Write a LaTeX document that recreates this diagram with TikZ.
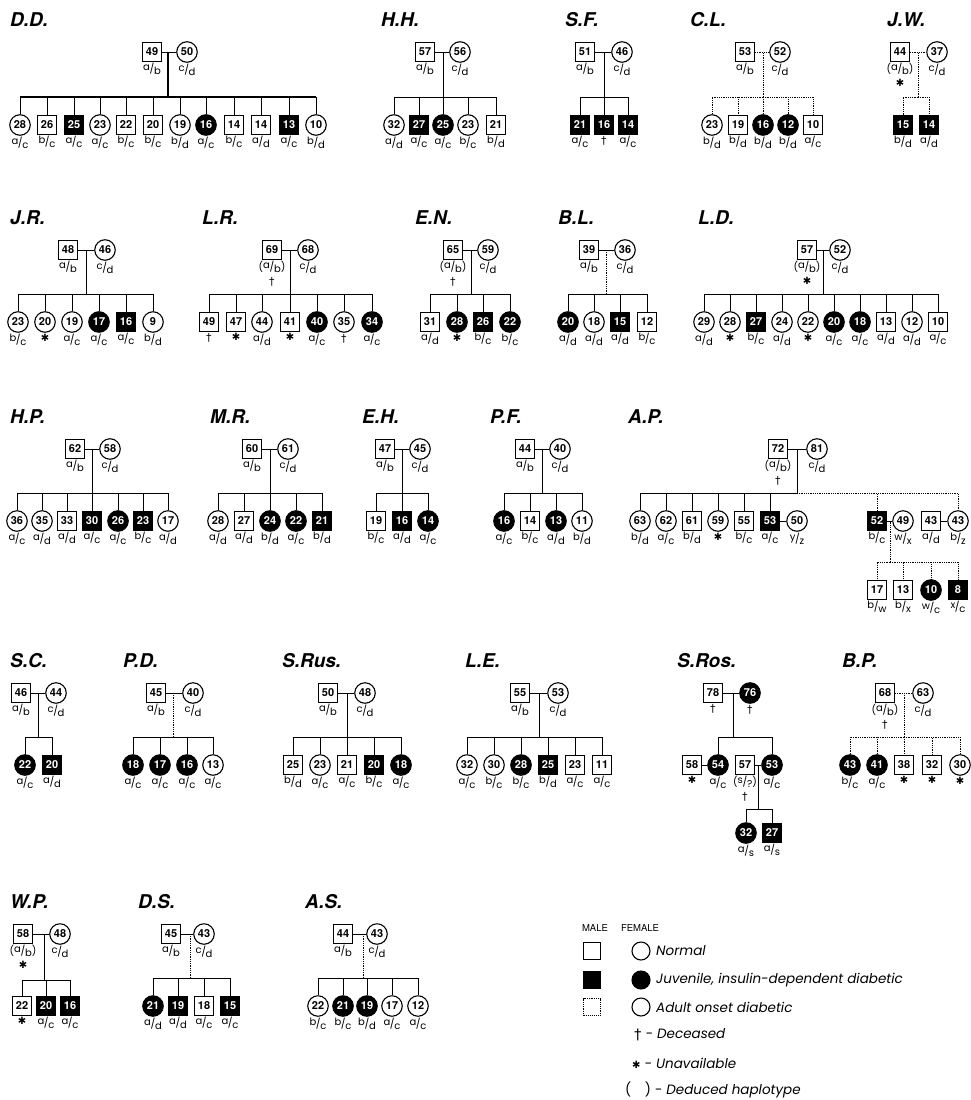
\documentclass[tikz,border=0pt]{standalone}
\usepackage{fontspec}
\setmainfont{TeX Gyre Heros}
\newfontfamily\heros{TeX Gyre Heros}
\newfontfamily\dejavu{DejaVu Sans}
\newfontfamily\lgdfont{Poppins}
\usetikzlibrary{positioning}

\newcommand\hapl[2]{\raisebox{2pt}{#1}\kern-.3pt/\kern-.3pt\raisebox{-1.7pt}{#2}}
\newcommand\unav{{\dejavu\fontsize{10}{10}\selectfont ✱}}
\newcommand\dead{{\heros\textdagger}}

\begin{document}
\begin{tikzpicture}[x=1pt, y=-1pt,
        indiv/.style={draw, line width=1.1pt, inner sep=0pt,
                      font=\heros\bfseries\fontsize{11}{11}\selectfont},
        male/.style={indiv, rectangle, minimum size=19pt},
        female/.style={indiv, circle, minimum size=20.5pt},
        sick/.style={fill=black, text=white},
        hap/.style={font=\lgdfont\fontsize{10}{12}\selectfont, text=black,
                    inner sep=1pt, align=center},
        ht/.style={label={[hap]below:#1}},
        ttl/.style={anchor=base west, inner sep=0pt,
                    font=\heros\bfseries\itshape\fontsize{19}{19}\selectfont},
        link/.style={line width=0.8pt},
        blink/.style={line width=1.6pt},
        dlink/.style={line width=0.8pt, densely dotted},
        lgd/.style={anchor=west, inner sep=0pt,
                    font=\lgdfont\itshape\fontsize{13.5}{14}\selectfont}
    ]
\useasboundingbox (0,0) rectangle (971,1100);

% --- D.D. ---
\node[ttl] (ddT) at (10,26) {D.D.};
\node[male, ht=\hapl ab] (ddF) at (152,52) {49};
\node[female, ht=\hapl cd] (ddM) at (187,52) {50};
\coordinate (ddS) at (168,97);
\node[female, ht=\hapl ac] (dd1) at (20,125) {28};
\node[male, ht=\hapl bc] (dd2) at (47,125) {26};
\node[male, sick, ht=\hapl ac] (dd3) at (74,125) {25};
\node[female, ht=\hapl ac] (dd4) at (100,125) {23};
\node[male, ht=\hapl bc] (dd5) at (126,125) {22};
\node[male, ht=\hapl bc] (dd6) at (153,125) {20};
\node[female, ht=\hapl bd] (dd7) at (180,125) {19};
\node[female, sick, ht=\hapl ac] (dd8) at (206,125) {16};
\node[male, ht=\hapl bc] (dd9) at (234,125) {14};
\node[male, ht=\hapl ad] (dd10) at (261,125) {14};
\node[male, sick, ht=\hapl ac] (dd11) at (289,125) {13};
\node[female, ht=\hapl bd] (dd12) at (316,125) {10};
\draw[link] (ddF) -- (ddM);
\draw[blink] (ddS) -- (ddS |- ddF) (dd1 |- ddS) -- (dd12 |- ddS);
\draw[link] (ddS) -| (dd1) (ddS) -| (dd2) (ddS) -| (dd3) (ddS) -| (dd4)
    (ddS) -| (dd5) (ddS) -| (dd6) (ddS) -| (dd7) (ddS) -| (dd8)
    (ddS) -| (dd9) (ddS) -| (dd10) (ddS) -| (dd11) (ddS) -| (dd12);

% --- H.H. ---
\node[ttl] (hhT) at (381,26) {H.H.};
\node[male, ht=\hapl ab] (hhF) at (425,52) {57};
\node[female, ht=\hapl cd] (hhM) at (460,52) {56};
\coordinate (hhS) at (443,97);
\node[female, ht=\hapl ad] (hh1) at (394,125) {32};
\node[male, sick, ht=\hapl ac] (hh2) at (419,125) {27};
\node[female, sick, ht=\hapl ac] (hh3) at (443,125) {25};
\node[female, ht=\hapl bc] (hh4) at (468,125) {23};
\node[male, ht=\hapl bd] (hh5) at (496,125) {21};
\draw[link] (hhF) -- (hhM) (hhS) -- (hhS |- hhF);
\draw[link] (hhS) -| (hh1) (hhS) -| (hh2) (hhS) -| (hh3) (hhS) -| (hh4) (hhS) -| (hh5);

% --- S.F. ---
\node[ttl] (sfT) at (565,26) {S.F.};
\node[male, ht=\hapl ab] (sfF) at (585,52) {51};
\node[female, ht=\hapl cd] (sfM) at (622,52) {46};
\coordinate (sfS) at (604,97);
\node[male, sick, ht=\hapl ac] (sf1) at (580,125) {21};
\node[male, sick, ht=\dead] (sf2) at (604,125) {16};
\node[male, sick, ht=\hapl ac] (sf3) at (628,125) {14};
\draw[link] (sfF) -- (sfM) (sfS) -- (sfS |- sfF);
\draw[link] (sfS) -| (sf1) (sfS) -| (sf2) (sfS) -| (sf3);

% --- C.L. ---
\node[ttl] (clT) at (690,26) {C.L.};
\node[male, ht=\hapl ab] (clF) at (745,52) {53};
\node[female, ht=\hapl cd] (clM) at (780,52) {52};
\coordinate (clS) at (763,97);
\node[female, ht=\hapl bd] (cl1) at (712,125) {23};
\node[male, ht=\hapl bd] (cl2) at (738,125) {19};
\node[female, sick, ht=\hapl bd] (cl3) at (763,125) {16};
\node[female, sick, ht=\hapl bd] (cl4) at (788,125) {12};
\node[male, ht=\hapl ac] (cl5) at (813,125) {10};
\draw[dlink] (clF) -- (clM) (clS) -- (clS |- clF);
\draw[dlink] (clS) -| (cl1) (clS) -| (cl2) (clS) -| (cl3) (clS) -| (cl4) (clS) -| (cl5);

% --- J.W. ---
\node[ttl] (jwT) at (887,26) {J.W.};
\node[male, ht={(\hapl ab)\\[2pt]\unav}] (jwF) at (900,52) {44};
\node[female, ht=\hapl cd] (jwM) at (937,52) {37};
\coordinate (jwS) at (918,97);
\node[male, sick, ht=\hapl bd] (jw1) at (903,125) {15};
\node[male, sick, ht=\hapl ad] (jw2) at (929,125) {14};
\draw[dlink] (jwF) -- (jwM) (jwS) -- (jwS |- jwF);
\draw[dlink] (jwS) -| (jw1) (jwS) -| (jw2);

% --- J.R. ---
\node[ttl] (jrT) at (10,224) {J.R.};
\node[male, ht=\hapl ab] (jrF) at (68,250) {48};
\node[female, ht=\hapl cd] (jrM) at (105,250) {46};
\coordinate (jrS) at (86,294);
\node[female, ht=\hapl bc] (jr1) at (18,322) {23};
\node[female, ht=\unav] (jr2) at (45,322) {20};
\node[female, ht=\hapl ac] (jr3) at (72,322) {19};
\node[female, sick, ht=\hapl ac] (jr4) at (99,322) {17};
\node[male, sick, ht=\hapl ac] (jr5) at (126,322) {16};
\node[female, ht=\hapl bd] (jr6) at (153,322) {9};
\draw[link] (jrF) -- (jrM) (jrS) -- (jrS |- jrF);
\draw[link] (jrS) -| (jr1) (jrS) -| (jr2) (jrS) -| (jr3) (jrS) -| (jr4)
    (jrS) -| (jr5) (jrS) -| (jr6);

% --- L.R. ---
\node[ttl] (lrT) at (202,224) {L.R.};
\node[male, ht={(\hapl ab)\\[2pt]\dead}] (lrF) at (272,250) {69};
\node[female, ht=\hapl cd] (lrM) at (308,250) {68};
\coordinate (lrS) at (290,294);
\node[male, ht=\dead] (lr1) at (209,322) {49};
\node[male, ht=\unav] (lr2) at (236,322) {47};
\node[female, ht=\hapl ad] (lr3) at (262,322) {44};
\node[male, ht=\unav] (lr4) at (290,322) {41};
\node[female, sick, ht=\hapl ac] (lr5) at (317,322) {40};
\node[female, ht=\dead] (lr6) at (344,322) {35};
\node[female, sick, ht=\hapl ac] (lr7) at (372,322) {34};
\draw[link] (lrF) -- (lrM) (lrS) -- (lrS |- lrF);
\draw[link] (lrS) -| (lr1) (lrS) -| (lr2) (lrS) -| (lr3) (lrS) -| (lr4)
    (lrS) -| (lr5) (lrS) -| (lr6) (lrS) -| (lr7);

% --- E.N. ---
\node[ttl] (enT) at (415,224) {E.N.};
\node[male, ht={(\hapl ab)\\[2pt]\dead}] (enF) at (453,250) {65};
\node[female, ht=\hapl cd] (enM) at (488,250) {59};
\coordinate (enS) at (471,294);
\node[male, ht=\hapl ad] (en1) at (430,322) {31};
\node[female, sick, ht=\unav] (en2) at (457,322) {28};
\node[male, sick, ht=\hapl bc] (en3) at (483,322) {26};
\node[female, sick, ht=\hapl bc] (en4) at (510,322) {22};
\draw[link] (enF) -- (enM) (enS) -- (enS |- enF);
\draw[link] (enS) -| (en1) (enS) -| (en2) (enS) -| (en3) (enS) -| (en4);

% --- B.L. ---
\node[ttl] (blT) at (558,224) {B.L.};
\node[male, ht=\hapl ab] (blF) at (589,250) {39};
\node[female, ht=\hapl cd] (blM) at (625,250) {36};
\coordinate (blS) at (606,294);
\node[female, sick, ht=\hapl ad] (bl1) at (568,322) {20};
\node[female, ht=\hapl ad] (bl2) at (594,322) {18};
\node[male, sick, ht=\hapl ad] (bl3) at (620,322) {15};
\node[male, ht=\hapl bc] (bl4) at (647,322) {12};
\draw[link] (blF) -- (blM);
\draw[dlink] (blS) -- (blS |- blF);
\draw[link] (blS) -| (bl1) (blS) -| (bl2) (blS) -| (bl3) (blS) -| (bl4);

% --- L.D. ---
\node[ttl] (ldT) at (698,224) {L.D.};
\node[male, ht={(\hapl ab)\\[2pt]\unav}] (ldF) at (807,250) {57};
\node[female, ht=\hapl cd] (ldM) at (840,250) {52};
\coordinate (ldS) at (823,294);
\node[female, ht=\hapl ad] (ld1) at (704,322) {29};
\node[female, ht=\unav] (ld2) at (730,322) {28};
\node[male, sick, ht=\hapl bc] (ld3) at (756,322) {27};
\node[female, ht=\hapl ad] (ld4) at (782,322) {24};
\node[female, ht=\unav] (ld5) at (808,322) {22};
\node[female, sick, ht=\hapl ac] (ld6) at (834,322) {20};
\node[female, sick, ht=\hapl ac] (ld7) at (860,322) {18};
\node[male, ht=\hapl ad] (ld8) at (886,322) {13};
\node[female, ht=\hapl ad] (ld9) at (912,322) {12};
\node[male, ht=\hapl ac] (ld10) at (938,322) {10};
\draw[link] (ldF) -- (ldM) (ldS) -- (ldS |- ldF);
\draw[link] (ldS) -| (ld1) (ldS) -| (ld2) (ldS) -| (ld3) (ldS) -| (ld4)
    (ldS) -| (ld5) (ldS) -| (ld6) (ldS) -| (ld7) (ldS) -| (ld8)
    (ldS) -| (ld9) (ldS) -| (ld10);

% --- H.P. ---
\node[ttl] (hpT) at (10,423) {H.P.};
\node[male, ht=\hapl ab] (hpF) at (75,449) {62};
\node[female, ht=\hapl cd] (hpM) at (110,449) {58};
\coordinate (hpS) at (92,493);
\node[female, ht=\hapl ac] (hp1) at (17,521) {36};
\node[female, ht=\hapl ad] (hp2) at (42,521) {35};
\node[male, ht=\hapl ad] (hp3) at (67,521) {33};
\node[male, sick, ht=\hapl ac] (hp4) at (92,521) {30};
\node[female, sick, ht=\hapl ac] (hp5) at (118,521) {26};
\node[male, sick, ht=\hapl bc] (hp6) at (143,521) {23};
\node[female, ht=\hapl ad] (hp7) at (168,521) {17};
\draw[link] (hpF) -- (hpM) (hpS) -- (hpS |- hpF);
\draw[link] (hpS) -| (hp1) (hpS) -| (hp2) (hpS) -| (hp3) (hpS) -| (hp4)
    (hpS) -| (hp5) (hpS) -| (hp6) (hpS) -| (hp7);

% --- M.R. ---
\node[ttl] (mrT) at (210,423) {M.R.};
\node[male, ht=\hapl ab] (mrF) at (252,449) {60};
\node[female, ht=\hapl cd] (mrM) at (288,449) {61};
\coordinate (mrS) at (270,493);
\node[female, ht=\hapl ad] (mr1) at (218,521) {28};
\node[male, ht=\hapl ad] (mr2) at (244,521) {27};
\node[female, sick, ht=\hapl bd] (mr3) at (270,521) {24};
\node[female, sick, ht=\hapl ac] (mr4) at (296,521) {22};
\node[male, sick, ht=\hapl bd] (mr5) at (322,521) {21};
\draw[link] (mrF) -- (mrM) (mrS) -- (mrS |- mrF);
\draw[link] (mrS) -| (mr1) (mrS) -| (mr2) (mrS) -| (mr3) (mrS) -| (mr4) (mrS) -| (mr5);

% --- E.H. ---
\node[ttl] (ehT) at (362,423) {E.H.};
\node[male, ht=\hapl ab] (ehF) at (385,449) {47};
\node[female, ht=\hapl cd] (ehM) at (420,449) {45};
\coordinate (ehS) at (402,493);
\node[male, ht=\hapl bc] (eh1) at (376,521) {19};
\node[male, sick, ht=\hapl ad] (eh2) at (402,521) {16};
\node[female, sick, ht=\hapl ac] (eh3) at (428,521) {14};
\draw[link] (ehF) -- (ehM) (ehS) -- (ehS |- ehF);
\draw[link] (ehS) -| (eh1) (ehS) -| (eh2) (ehS) -| (eh3);

% --- P.F. ---
\node[ttl] (pfT) at (490,423) {P.F.};
\node[male, ht=\hapl ab] (pfF) at (525,449) {44};
\node[female, ht=\hapl cd] (pfM) at (560,449) {40};
\coordinate (pfS) at (542,493);
\node[female, sick, ht=\hapl ac] (pf1) at (504,521) {16};
\node[male, ht=\hapl bc] (pf2) at (530,521) {14};
\node[female, sick, ht=\hapl ad] (pf3) at (556,521) {13};
\node[female, ht=\hapl bd] (pf4) at (582,521) {11};
\draw[link] (pfF) -- (pfM) (pfS) -- (pfS |- pfF);
\draw[link] (pfS) -| (pf1) (pfS) -| (pf2) (pfS) -| (pf3) (pfS) -| (pf4);

% --- A.P. ---
\node[ttl] (apT) at (628,423) {A.P.};
\node[male, ht={(\hapl ab)\\[2pt]\dead}] (apF) at (778,449) {72};
\node[female, ht=\hapl cd] (apM) at (817,449) {81};
\coordinate (apS) at (797,493);
\node[female, ht=\hapl bd] (ap1) at (640,521) {63};
\node[female, ht=\hapl ac] (ap2) at (666,521) {62};
\node[male, ht=\hapl bd] (ap3) at (692,521) {61};
\node[female, ht=\unav] (ap4) at (718,521) {59};
\node[male, ht=\hapl bc] (ap5) at (744,521) {55};
\node[male, sick, ht=\hapl ac] (ap6) at (770,521) {53};
\node[female, ht=\hapl yz] (ap6w) at (797,521) {50};
\node[male, sick, ht=\hapl bc] (ap7) at (877,521) {52};
\node[female, ht=\hapl wx] (ap7w) at (903,521) {49};
\node[male, ht=\hapl ad] (ap8h) at (931,521) {43};
\node[female, ht=\hapl bz] (ap8) at (958,521) {43};
\coordinate (apG) at (890,562);
\node[male, ht=\hapl bw] (apg1) at (877,590) {17};
\node[male, ht=\hapl bx] (apg2) at (903,590) {13};
\node[female, sick, ht=\hapl wc] (apg3) at (931,590) {10};
\node[male, sick, ht=\hapl xc] (apg4) at (958,590) {8};
\draw[link] (apF) -- (apM) (apS) -- (apS |- apF);
\draw[link] (apS) -| (ap1) (apS) -| (ap2) (apS) -| (ap3) (apS) -| (ap4)
    (apS) -| (ap5) (apS) -| (ap6);
\draw[link] (ap6) -- (ap6w) (ap7) -- (ap7w) (ap8h) -- (ap8);
\draw[dlink] (apS) -| (ap7) (apS) -| (ap8);
\draw[dlink] (apG) -- (apG |- ap7) (apG) -| (apg1) (apG) -| (apg2)
    (apG) -| (apg3) (apG) -| (apg4);

% --- S.C. ---
\node[ttl] (scT) at (10,667) {S.C.};
\node[male, ht=\hapl ab] (scF) at (21,693) {46};
\node[female, ht=\hapl cd] (scM) at (56,693) {44};
\coordinate (scS) at (38,737);
\node[female, sick, ht=\hapl ac] (sc1) at (25,765) {22};
\node[male, sick, ht=\hapl ad] (sc2) at (52,765) {20};
\draw[link] (scF) -- (scM) (scS) -- (scS |- scF);
\draw[link] (scS) -| (sc1) (scS) -| (sc2);

% --- P.D. ---
\node[ttl] (pdT) at (123,667) {P.D.};
\node[male, ht=\hapl ab] (pdF) at (156,693) {45};
\node[female, ht=\hapl cd] (pdM) at (193,693) {40};
\coordinate (pdS) at (173,737);
\node[female, sick, ht=\hapl ac] (pd1) at (133,765) {18};
\node[female, sick, ht=\hapl ac] (pd2) at (160,765) {17};
\node[female, sick, ht=\hapl ac] (pd3) at (187,765) {16};
\node[female, ht=\hapl ac] (pd4) at (213,765) {13};
\draw[link] (pdF) -- (pdM);
\draw[dlink] (pdS) -- (pdS |- pdF);
\draw[link] (pdS) -| (pd1) (pdS) -| (pd2) (pdS) -| (pd3) (pdS) -| (pd4);

% --- S.Rus. ---
\node[ttl] (sruT) at (282,667) {S.Rus.};
\node[male, ht=\hapl ab] (sruF) at (328,693) {50};
\node[female, ht=\hapl cd] (sruM) at (365,693) {48};
\coordinate (sruS) at (347,737);
\node[male, ht=\hapl bd] (sru1) at (293,765) {25};
\node[female, ht=\hapl ac] (sru2) at (320,765) {23};
\node[male, ht=\hapl ac] (sru3) at (347,765) {21};
\node[male, sick, ht=\hapl bc] (sru4) at (374,765) {20};
\node[female, sick, ht=\hapl ac] (sru5) at (401,765) {18};
\draw[link] (sruF) -- (sruM) (sruS) -- (sruS |- sruF);
\draw[link] (sruS) -| (sru1) (sruS) -| (sru2) (sruS) -| (sru3) (sruS) -| (sru4) (sruS) -| (sru5);

% --- L.E. ---
\node[ttl] (leT) at (465,667) {L.E.};
\node[male, ht=\hapl ab] (leF) at (520,693) {55};
\node[female, ht=\hapl cd] (leM) at (558,693) {53};
\coordinate (leS) at (539,737);
\node[female, ht=\hapl ac] (le1) at (467,765) {32};
\node[female, ht=\hapl bc] (le2) at (494,765) {30};
\node[female, sick, ht=\hapl bc] (le3) at (521,765) {28};
\node[male, sick, ht=\hapl bd] (le4) at (548,765) {25};
\node[male, ht=\hapl ac] (le5) at (575,765) {23};
\node[male, ht=\hapl ac] (le6) at (602,765) {11};
\draw[link] (leF) -- (leM) (leS) -- (leS |- leF);
\draw[link] (leS) -| (le1) (leS) -| (le2) (leS) -| (le3) (leS) -| (le4)
    (leS) -| (le5) (leS) -| (le6);

% --- S.Ros. ---
\node[ttl] (sroT) at (677,667) {S.Ros.};
\node[male, ht=\dead] (sroF) at (713,693) {78};
\node[female, sick, ht=\dead] (sroM) at (750,693) {76};
\coordinate (sroS) at (733,737);
\node[male, ht=\unav] (sro1h) at (692,765) {58};
\node[female, sick, ht=\hapl ac] (sro1) at (718,765) {54};
\node[male, ht={(\hapl s?)\\[2pt]\dead}] (sro2h) at (745,765) {57};
\node[female, sick, ht=\hapl ac] (sro2) at (772,765) {53};
\coordinate (sroG) at (758,809);
\node[female, sick, ht=\hapl as] (srog1) at (746,833) {32};
\node[male, sick, ht=\hapl as] (srog2) at (772,833) {27};
\draw[link] (sroF) -- (sroM) (sroS) -- (sroS |- sroF);
\draw[link] (sroS) -| (sro1) (sroS) -| (sro2);
\draw[link] (sro1h) -- (sro1) (sro2h) -- (sro2);
\draw[link] (sroG) -- (sroG |- sro2) (sroG) -| (srog1) (sroG) -| (srog2);

% --- B.P. ---
\node[ttl] (bpT) at (842,667) {B.P.};
\node[male, ht={(\hapl ab)\\[2pt]\dead}] (bpF) at (885,693) {68};
\node[female, ht=\hapl cd] (bpM) at (923,693) {63};
\coordinate (bpS) at (904,737);
\node[female, sick, ht=\hapl bc] (bp1) at (850,765) {43};
\node[female, sick, ht=\hapl ac] (bp2) at (877,765) {41};
\node[male, ht=\unav] (bp3) at (904,765) {38};
\node[male, ht=\unav] (bp4) at (932,765) {32};
\node[female, ht=\unav] (bp5) at (960,765) {30};
\draw[dlink] (bpF) -- (bpM) (bpS) -- (bpS |- bpF);
\draw[dlink] (bpS) -| (bp1) (bpS) -| (bp2) (bpS) -| (bp3) (bpS) -| (bp4) (bpS) -| (bp5);

% --- W.P. ---
\node[ttl] (wpT) at (10,908) {W.P.};
\node[male, ht={(\hapl ab)\\[2pt]\unav}] (wpF) at (23,934) {58};
\node[female, ht=\hapl cd] (wpM) at (60,934) {48};
\coordinate (wpS) at (44,980);
\node[male, ht=\unav] (wp1) at (22,1006) {22};
\node[male, sick, ht=\hapl ac] (wp2) at (46,1006) {20};
\node[male, sick, ht=\hapl ac] (wp3) at (70,1006) {16};
\draw[link] (wpF) -- (wpM) (wpS) -- (wpS |- wpF);
\draw[link] (wpS) -| (wp1) (wpS) -| (wp2) (wpS) -| (wp3);

% --- D.S. ---
\node[ttl] (dsT) at (138,908) {D.S.};
\node[male, ht=\hapl ab] (dsF) at (171,934) {45};
\node[female, ht=\hapl cd] (dsM) at (204,934) {43};
\coordinate (dsS) at (190,978);
\node[female, sick, ht=\hapl ad] (ds1) at (153,1006) {21};
\node[male, sick, ht=\hapl ad] (ds2) at (178,1006) {19};
\node[male, ht=\hapl ac] (ds3) at (204,1006) {18};
\node[male, sick, ht=\hapl ac] (ds4) at (230,1006) {15};
\draw[link] (dsF) -- (dsM);
\draw[dlink] (dsS) -- (dsS |- dsF);
\draw[link] (dsS) -| (ds1) (dsS) -| (ds2) (dsS) -| (ds3) (dsS) -| (ds4);

% --- A.S. ---
\node[ttl] (asT) at (305,908) {A.S.};
\node[male, ht=\hapl ab] (asF) at (343,934) {44};
\node[female, ht=\hapl cd] (asM) at (377,934) {43};
\coordinate (asS) at (363,978);
\node[female, ht=\hapl bc] (as1) at (318,1006) {22};
\node[female, sick, ht=\hapl bc] (as2) at (343,1006) {21};
\node[female, sick, ht=\hapl bd] (as3) at (367,1006) {19};
\node[female, ht=\hapl ac] (as4) at (392,1006) {17};
\node[female, ht=\hapl ac] (as5) at (418,1006) {12};
\draw[link] (asF) -- (asM);
\draw[dlink] (asS) -- (asS |- asF);
\draw[link] (asS) -| (as1) (asS) -| (as2) (asS) -| (as3) (asS) -| (as4) (asS) -| (as5);

% --- key ---
\node[font=\heros\fontsize{9.5}{10}\selectfont] (keyM) at (595,928) {MALE};
\node[font=\heros\fontsize{9.5}{10}\selectfont] (keyF) at (640,928) {FEMALE};
\node[male, minimum size=17pt] (keyN1) at (592,951) {};
\node[female, minimum size=18pt] (keyN2) at (641,951) {};
\node[lgd] (keyNt) at (656,951) {Normal};
\node[male, sick, minimum size=17pt] (keyJ1) at (592,980) {};
\node[female, sick, minimum size=18pt] (keyJ2) at (641,980) {};
\node[lgd] (keyJt) at (656,980) {Juvenile, insulin-dependent diabetic};
\node[male, densely dotted, minimum size=17pt] (keyA1) at (592,1007) {};
\node[female, minimum size=18pt] (keyA2) at (641,1007) {};
\node[lgd] (keyAt) at (656,1007) {Adult onset diabetic};
\node[lgd] (keyD) at (634,1035) {{\upshape\dead} - Deceased};
\node[lgd] (keyU) at (632,1063) {{\upshape\unav} - Unavailable};
\node[lgd] (keyH) at (625,1090) {{\upshape(\quad)} - Deduced haplotype};
\end{tikzpicture}
\end{document}
